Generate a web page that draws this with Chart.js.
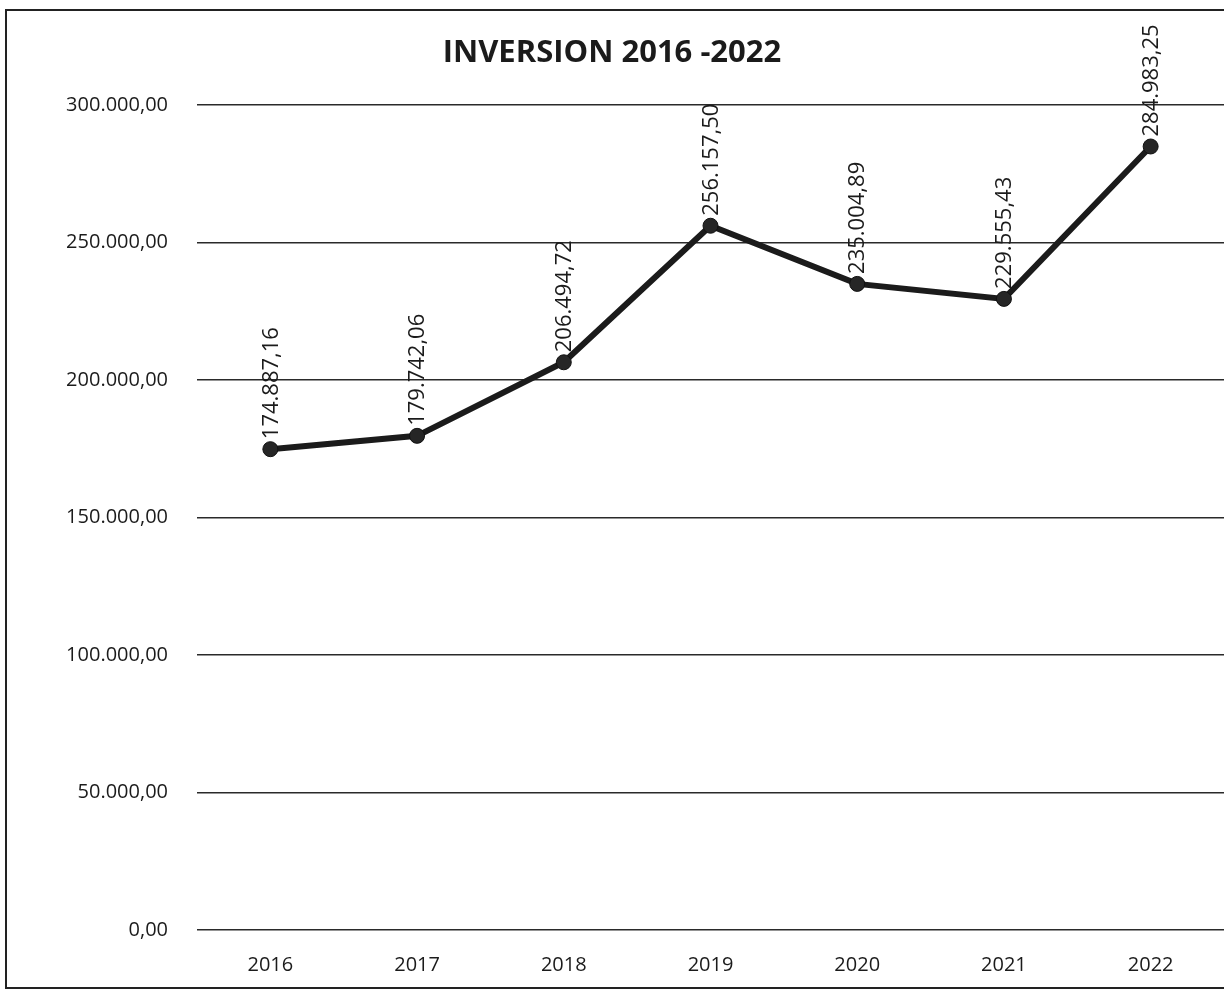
<!DOCTYPE html>
<html>
<head>
<meta charset="utf-8">
<script src="https://cdn.jsdelivr.net/npm/chart.js@4.4.0/dist/chart.umd.min.js"></script>
<style>
  html, body { margin: 0; padding: 0; background: #fff; overflow: hidden; }
  #wrap { position: relative; width: 1224px; height: 992px; }
  #frame {
    position: absolute; left: 5px; top: 9px; width: 1240px; height: 976px;
    border: 2px solid #222; box-sizing: content-box; pointer-events: none;
  }
</style>
</head>
<body>
<div id="wrap">
  <canvas id="invChart" width="1224" height="992"></canvas>
  <div id="frame"></div>
</div>
<script>
// ── Data ───────────────────────────────────────────────────────────
const years   = ['2016', '2017', '2018', '2019', '2020', '2021', '2022'];
const amounts = [174887.16, 179742.06, 206494.72, 256157.50, 235004.89, 229555.43, 284983.25];
const yMin    = 0;
const yMax    = 300000;
const yStep   = 50000;

const FONT = "'Open Sans'";
const INK  = '#1b1b1b';

// 174887.16 -> "174.887,16"
function fmtEs(v) {
  const [int, dec] = Math.abs(v).toFixed(2).split('.');
  return int.replace(/\B(?=(\d{3})+(?!\d))/g, '.') + ',' + dec;
}

// vertical value labels above each point
const pointLabels = {
  id: 'pointLabels',
  afterDatasetsDraw(chart) {
    const { ctx } = chart;
    const meta = chart.getDatasetMeta(0);
    ctx.save();
    ctx.font = `22px ${FONT}`;
    ctx.fillStyle = INK;
    ctx.textAlign = 'left';
    ctx.textBaseline = 'middle';
    meta.data.forEach((pt, i) => {
      ctx.save();
      ctx.translate(pt.x + 1, pt.y - 10);
      ctx.rotate(-Math.PI / 2);
      ctx.fillText(fmtEs(amounts[i]), 0, 0);
      ctx.restore();
    });
    ctx.restore();
  },
};

const ctx = document.getElementById('invChart').getContext('2d');
new Chart(ctx, {
  type: 'line',
  data: {
    labels: years,
    datasets: [{
      data:             amounts,
      borderColor:      INK,
      borderWidth:      6,
      backgroundColor:  '#262626',
      pointRadius:      7.5,
      pointBorderColor: '#111',
      pointBorderWidth: 1,
      tension:          0,
      fill:             false,
    }],
  },
  options: {
    responsive: false,
    animation: false,
    layout: { autoPadding: false, padding: { left: 0, right: 0, top: 0, bottom: 0 } },
    plugins: {
      legend:  { display: false },
      tooltip: { enabled: false },
      title: {
        display: true,
        text: 'INVERSION 2016 -2022',
        color: INK,
        font: { family: FONT, size: 31, weight: 'bold', lineHeight: 1.2 },
        padding: { top: 35, bottom: 33 },
      },
    },
    scales: {
      x: {
        offset: true,
        grid:   { display: false },
        border: { display: false },
        ticks:  { color: INK, font: { family: FONT, size: 20 }, padding: 15 },
        afterFit: s => { s.height = 62; s.paddingLeft = 0; s.paddingRight = 0; },
      },
      y: {
        min: yMin,
        max: yMax,
        border: { display: false },
        grid:   { color: '#2a2a2a', lineWidth: 1.6, drawTicks: false },
        ticks:  {
          stepSize: yStep,
          color: INK,
          padding: 29,
          font: { family: FONT, size: 20 },
          callback: v => fmtEs(v),
        },
        afterFit: s => { s.width = 197; },
      },
    },
  },
  plugins: [pointLabels],
});
</script>
</body>
</html>
